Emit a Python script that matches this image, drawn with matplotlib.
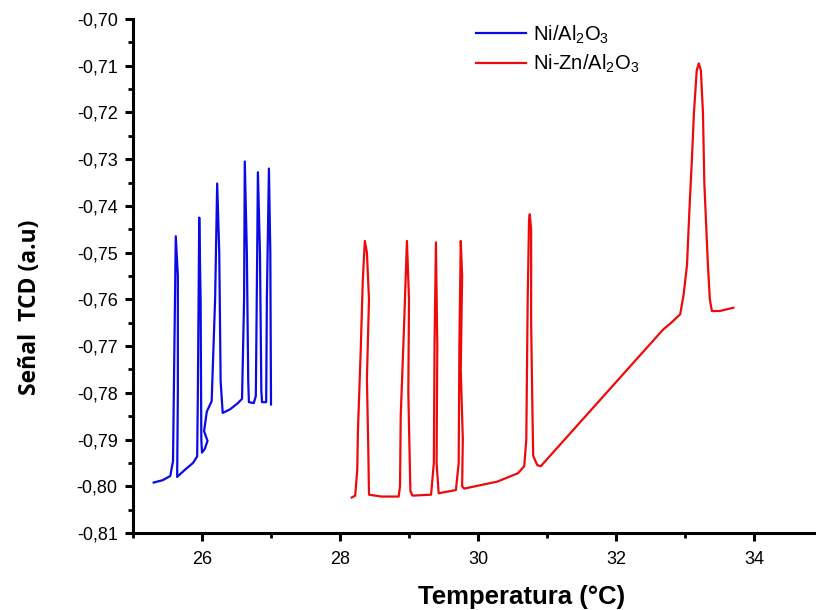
import matplotlib
matplotlib.use("Agg")
import matplotlib.pyplot as plt
from matplotlib.ticker import MultipleLocator, FuncFormatter

# Ni/Al2O3 series (temperature, signal)
ni_x = [25.30, 25.43, 25.54, 25.58, 25.60, 25.62, 25.65, 25.65, 25.64, 25.75,
        25.87, 25.93, 25.94, 25.96, 25.98, 25.99, 26.00, 26.04, 26.08, 26.03,
        26.07, 26.14, 26.19, 26.22, 26.25, 26.27, 26.30, 26.41, 26.52, 26.58,
        26.61, 26.62, 26.65, 26.67, 26.68, 26.75, 26.78, 26.80, 26.81, 26.84,
        26.86, 26.87, 26.93, 26.94, 26.97, 26.99, 27.00, 27.00]
ni_y = [-0.7992, -0.7987, -0.7978, -0.7946, -0.7700, -0.7465, -0.7550, -0.7800, -0.7980, -0.7965,
        -0.7950, -0.7936, -0.7800, -0.7425, -0.7600, -0.7900, -0.7928, -0.7920, -0.7903, -0.7882,
        -0.7840, -0.7818, -0.7600, -0.7352, -0.7500, -0.7775, -0.7843, -0.7835, -0.7822, -0.7813,
        -0.7600, -0.7305, -0.7500, -0.7775, -0.7820, -0.7822, -0.7807, -0.7500, -0.7328, -0.7500,
        -0.7796, -0.7820, -0.7820, -0.7600, -0.7320, -0.7500, -0.7818, -0.7825]

# Ni-Zn/Al2O3 series
nizn_x = [28.17, 28.22, 28.25, 28.26, 28.30, 28.33, 28.36, 28.39, 28.42, 28.39,
          28.41, 28.42, 28.60, 28.85, 28.87, 28.88, 28.93, 28.97, 29.00, 28.99,
          29.02, 29.05, 29.32, 29.36, 29.37, 29.39, 29.41, 29.40, 29.43, 29.68,
          29.72, 29.73, 29.75, 29.77, 29.75, 29.78, 29.77, 29.80, 30.28, 30.58,
          30.67, 30.70, 30.72, 30.74, 30.75, 30.77, 30.77, 30.79, 30.80, 30.86,
          30.91, 32.68, 32.80, 32.93, 32.98, 33.03, 33.05, 33.07, 33.10, 33.13,
          33.17, 33.20, 33.23, 33.26, 33.28, 33.33, 33.36, 33.39, 33.50, 33.70]
nizn_y = [-0.8024, -0.8020, -0.7965, -0.7880, -0.7710, -0.7560, -0.7475, -0.7500, -0.7600, -0.7770,
          -0.7920, -0.8018, -0.8022, -0.8022, -0.8000, -0.7850, -0.7650, -0.7475, -0.7600, -0.7800,
          -0.8010, -0.8020, -0.8018, -0.7950, -0.7700, -0.7478, -0.7700, -0.7950, -0.8015, -0.8008,
          -0.7950, -0.7700, -0.7475, -0.7550, -0.7750, -0.7900, -0.8000, -0.8005, -0.7990, -0.7972,
          -0.7957, -0.7900, -0.7600, -0.7430, -0.7418, -0.7450, -0.7650, -0.7850, -0.7935, -0.7955,
          -0.7957, -0.7665, -0.7650, -0.7632, -0.7590, -0.7525, -0.7455, -0.7390, -0.7300, -0.7200,
          -0.7110, -0.7095, -0.7110, -0.7200, -0.7350, -0.7520, -0.7600, -0.7625, -0.7625, -0.7618]

labels = ["Ni/Al$_2$O$_3$", "Ni-Zn/Al$_2$O$_3$"]
x_major = [26, 28, 30, 32, 34]

plt.rcParams['font.family'] = ['Liberation Sans', 'DejaVu Sans']
plt.rcParams['mathtext.fontset'] = 'custom'
plt.rcParams['mathtext.rm'] = 'Liberation Sans'
plt.rcParams['mathtext.it'] = 'Liberation Sans'

fig = plt.figure(figsize=(8.16, 6.10), dpi=100)
ax = fig.add_axes([133/816, 1 - 533/610, 1 - 133/816, 514/610])

ax.plot(ni_x, ni_y, color='#0a0ae6', lw=1.6, label=labels[0])
ax.plot(nizn_x, nizn_y, color='#ee0a0a', lw=1.6, label=labels[1])

ax.set_xlim(25, 25 + 683/69)
ax.set_ylim(-0.81, -0.70)
ax.set_xticks(x_major)
ax.xaxis.set_minor_locator(MultipleLocator(1))
ax.yaxis.set_major_locator(MultipleLocator(0.01))
ax.yaxis.set_minor_locator(MultipleLocator(0.005))
ax.yaxis.set_major_formatter(FuncFormatter(lambda v, p: f"{v:.2f}".replace('.', ',')))

for s in ['top', 'right']:
    ax.spines[s].set_visible(False)
for s in ['left', 'bottom']:
    ax.spines[s].set_linewidth(2.2)

ax.tick_params(which='major', direction='out', length=6, width=2.2, labelsize=13, pad=5)
ax.tick_params(axis='x', which='major', pad=7)
ax.tick_params(which='minor', direction='out', length=3.5, width=2.0)

ax.set_xlabel("Temperatura (°C)", fontsize=18.5, fontweight='bold')
ax.xaxis.set_label_coords((522 - 133) / 683, -(597 - 533) / 514)
ax.xaxis.label.set_va('center')
ax.set_ylabel("Señal  TCD (a.u)", fontsize=16.5, fontweight='bold',
              family=['Open Sans', 'DejaVu Sans'])
ax.yaxis.set_label_coords(-(133 - 30) / 683, (533 - 307) / 514)
ax.yaxis.label.set_va('center')

ax.legend(loc='upper left', bbox_to_anchor=(0.475, 1.027), frameon=False,
          fontsize=14.5, handlelength=2.5, handletextpad=0.35, labelspacing=0.35)

fig.savefig("out.png", dpi=100)
